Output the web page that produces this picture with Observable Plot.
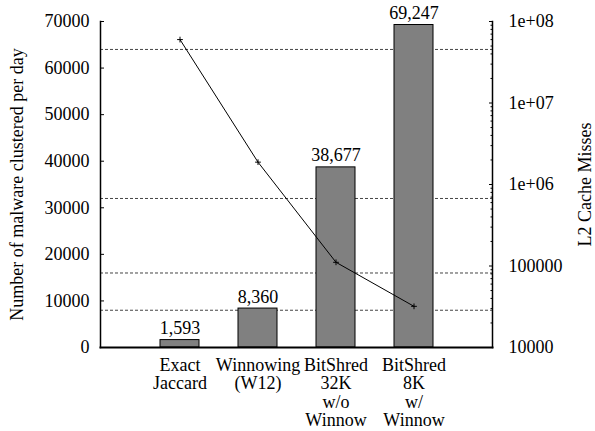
<!DOCTYPE html>
<html>
<head>
<meta charset="utf-8">
<script src="https://cdn.jsdelivr.net/npm/d3@7"></script>
<script src="https://cdn.jsdelivr.net/npm/@observablehq/plot@0.6"></script>
<style>
  html, body { margin: 0; padding: 0; background: #fff; }
  #chart svg { display: block; }
  #chart svg text { font-family: 'Liberation Serif', 'DejaVu Serif', serif; }
</style>
</head>
<body>
<div id="chart"></div>
<script>
const categories = ["Exact\nJaccard", "Winnowing\n(W12)", "BitShred\n32K\nw/o\nWinnow", "BitShred\n8K\nw/\nWinnow"];
const malwarePerDay = [1593, 8360, 38677, 69247];
const cacheMisses = [6.0e7, 1.88e6, 1.11e5, 3.2e4];
const leftTicks = [0, 10000, 20000, 30000, 40000, 50000, 60000, 70000];
const gridValues = [8000, 16000, 32000, 64000];
const rightTicks = [1e4, 1e5, 1e6, 1e7, 1e8];
const rightTickLabels = ["10000", "100000", "1e+06", "1e+07", "1e+08"];
const leftTitle = "Number of malware clustered per day";
const rightTitle = "L2 Cache Misses";

const LEFT_MAX = 70000;
const LOG_MIN = 4, LOG_MAX = 8;
// map a log-scale (right axis) value into the left axis domain
const toLeft = v => (Math.log10(v) - LOG_MIN) / (LOG_MAX - LOG_MIN) * LEFT_MAX;

const bars = categories.map((c, i) => ({cat: c, value: malwarePerDay[i]}));
const line = categories.map((c, i) => ({cat: c, misses: cacheMisses[i]}));
const minorTicks = [];
for (let e = LOG_MIN; e < LOG_MAX; e++) for (let m = 2; m <= 9; m++) minorTicks.push(m * 10 ** e);
const rightLabelMap = new Map(rightTicks.map((t, i) => [toLeft(t), rightTickLabels[i]]));

const font = "'Liberation Serif', 'DejaVu Serif', serif";

const chart = Plot.plot({
  width: 595,
  height: 431,
  marginLeft: 100,
  marginRight: 103,
  marginTop: 21,
  marginBottom: 84,
  style: {fontFamily: font, fontSize: "18px", color: "#000", background: "#fff"},
  x: {type: "band", domain: categories, paddingInner: 0.5, paddingOuter: 0.75, axis: null},
  y: {domain: [0, LEFT_MAX], axis: null},
  marks: [
    Plot.ruleY(gridValues, {stroke: "#444", strokeDasharray: "3,2", strokeWidth: 1}),
    Plot.barY(bars, {x: "cat", y: "value", fill: "#808080", stroke: "#000", strokeWidth: 1}),
    Plot.text(bars, {x: "cat", y: "value", text: d => d3.format(",")(d.value), lineAnchor: "bottom", dy: -6, fontSize: 18, fontFamily: font}),
    Plot.line(line, {x: "cat", y: d => toLeft(d.misses), stroke: "#000", strokeWidth: 1}),
    Plot.dot(line, {x: "cat", y: d => toLeft(d.misses), symbol: "plus", r: 2, stroke: "#000", strokeWidth: 1}),
    // left axis
    Plot.axisY({anchor: "left", ticks: leftTicks, tickSize: 4, dx: 4, tickPadding: 11, tickFormat: d => String(d), label: null, fontSize: 18, fontFamily: font, stroke: "#000"}),
    // right axis major
    Plot.axisY({anchor: "right", ticks: rightTicks.map(toLeft), tickSize: 4, dx: -4, tickPadding: 16, tickFormat: d => rightLabelMap.get(d), label: null, fontSize: 18, fontFamily: font}),
    // right axis minor ticks
    Plot.axisY({anchor: "right", ticks: minorTicks.map(toLeft), tickSize: 2.5, dx: -2.5, tickFormat: () => "", label: null}),
    // bottom category labels
    Plot.axisX({anchor: "bottom", tickSize: 0, tickPadding: 10, lineHeight: 1.03, label: null, fontSize: 18, fontFamily: font}),
    Plot.frame({anchor: "left", strokeWidth: 1.5}),
    Plot.frame({anchor: "right", strokeWidth: 1.5}),
    Plot.frame({anchor: "bottom", strokeWidth: 2}),
    Plot.text([leftTitle], {frameAnchor: "left", textAnchor: "middle", rotate: -90, dx: -83, fontSize: 18, fontFamily: font}),
    Plot.text([rightTitle], {frameAnchor: "right", textAnchor: "middle", rotate: -90, dx: 93, fontSize: 18, fontFamily: font})
  ]
});
document.getElementById("chart").appendChild(chart);
</script>
</body>
</html>
